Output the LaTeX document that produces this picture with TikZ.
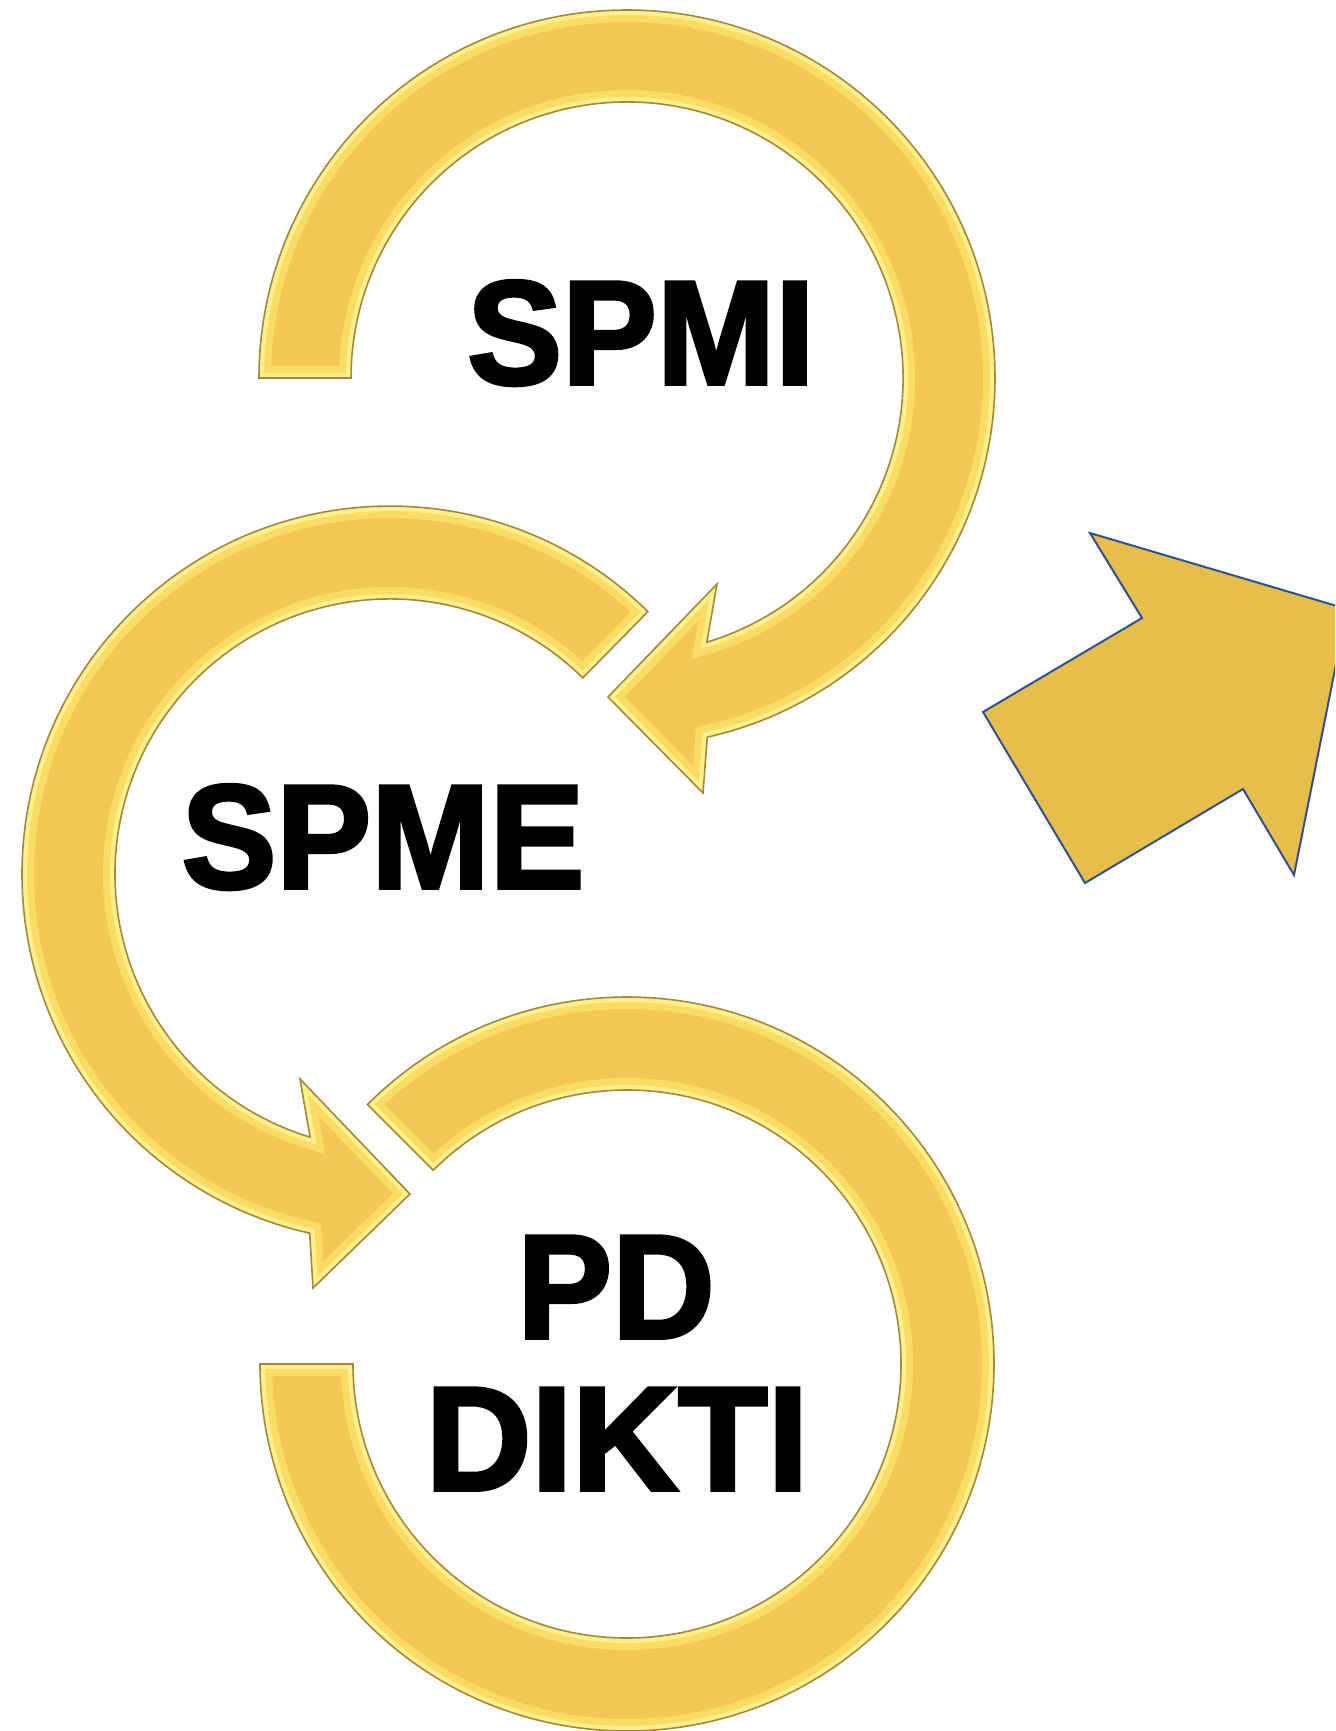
\documentclass[tikz,border=0pt]{standalone}
\usepackage{fontspec}
\setmainfont{Liberation Sans}
\newfontfamily\heavylabel[FakeBold=2.5]{Liberation Sans Bold}
\usetikzlibrary{calc}
\definecolor{ringface}{RGB}{242,199,83}
\definecolor{ringbevel}{RGB}{250,220,100}
\definecolor{ringhi}{RGB}{255,240,140}
\definecolor{ringedge}{RGB}{165,135,60}
\definecolor{bigfill}{RGB}{230,190,75}
\definecolor{bigline}{RGB}{47,82,143}
\newcommand{\ringA}{(259,378) arc[start angle=180,end angle=437.4,radius=368] -- (703,793) -- (608,697) -- (717,584) -- (706.8,642.2) arc[start angle=433.2,end angle=180,radius=276] -- cycle}
\newcommand{\ringB}{(647.9,611.6) arc[start angle=-45.5,end angle=-257.4,radius=368] -- (313,1288) -- (410,1194) -- (300,1079) -- (310.1,1137.1) arc[start angle=-253.1,end angle=-45.5,radius=275] -- cycle}
\newcommand{\ringC}{(367.5,1104.5) arc[start angle=-135,end angle=180,radius=367] -- (353,1364) arc[start angle=180,end angle=-135,radius=274] -- cycle}
\newcommand{\bevelshape}[1]{%
  \fill[ringface] #1;
  \begin{scope}
    \clip #1;
    \draw[ringbevel, line width=12pt, line join=miter] #1;
    \draw[ringhi, line width=5pt, line join=miter] #1;
  \end{scope}
  \draw[ringedge, line width=0.8pt, line join=miter] #1;
}
\newcommand{\roundlabel}[2][0.96]{\scalebox{#1}[1]{#2}}
\begin{document}
\begin{tikzpicture}[x=0.5pt,y=-0.5pt,
  lbl/.style={font=\fontsize{74}{78}\heavylabel, anchor=base, inner sep=0pt, text=black},
  bigarrow/.style={fill=bigfill, draw=bigline, line width=1pt, line join=miter}]
\useasboundingbox (0,0) rectangle (1335,1731);
\clip (0,0) rectangle (1335,1731);
\fill[white] (0,0) rectangle (1335,1731);
\bevelshape{\ringA}
\bevelshape{\ringB}
\bevelshape{\ringC}
\draw[bigarrow] (1090,533) -- (1347,609) -- (1294,875) -- (1243,789) -- (1085,883) -- (983,712) -- (1142,618) -- cycle;
\node[lbl] (spmi) at (641,384) {\roundlabel{SPMI}};
\node[lbl] (spme) at (383,888) {\roundlabel{SPME}};
\node[lbl] (pd) at (616,1338) {\roundlabel{PD}};
\node[lbl] (dikti) at (617,1490) {\roundlabel[0.99]{DIKTI}};
\end{tikzpicture}
\end{document}
